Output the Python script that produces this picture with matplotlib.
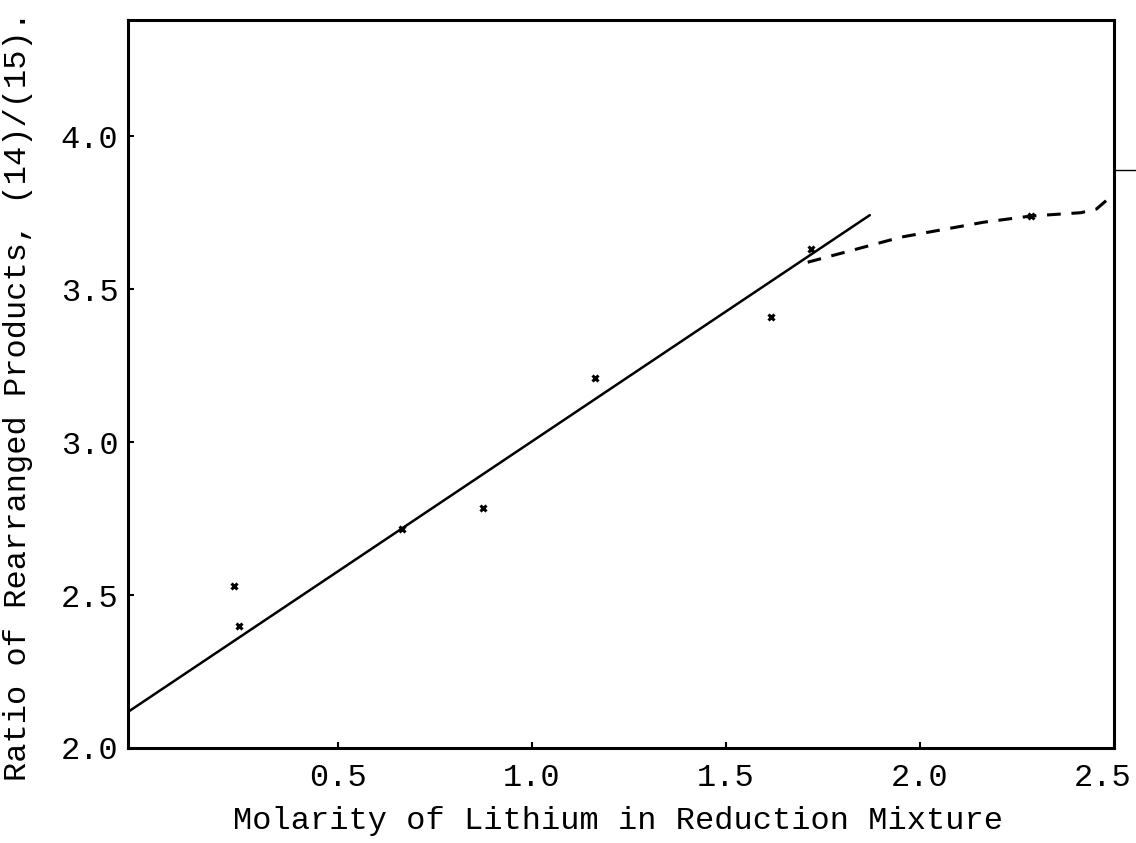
import matplotlib
matplotlib.use('Agg')
import matplotlib.pyplot as plt
import matplotlib.transforms as mtransforms

# Puntos experimentales (molaridad, razón)
molarity = [0.232, 0.245, 0.667, 0.874, 1.162, 1.616, 1.719, 2.286]
ratio = [2.529, 2.400, 2.716, 2.784, 3.209, 3.408, 3.630, 3.739]

# Recta trazada a mano
fit_x = [-0.04, 1.871]
fit_y = [2.118, 3.742]

# Curva discontinua a concentración alta
dash_x = [1.711, 1.951, 2.165, 2.286, 2.415, 2.455, 2.485]
dash_y = [3.588, 3.670, 3.719, 3.739, 3.750, 3.762, 3.795]

x_ticks = [0.5, 1.0, 1.5, 2.0, 2.5]
y_ticks = [2.0, 2.5, 3.0, 3.5, 4.0]

plt.rcParams['font.family'] = ['Liberation Mono', 'DejaVu Sans Mono']

fig = plt.figure(figsize=(11.36, 8.43), dpi=100)
ax = fig.add_axes([0.1127, 0.1127, 0.8679, 0.8636])

ax.plot(fit_x, fit_y, color='black', lw=1.8, solid_capstyle='round')
ax.plot(dash_x, dash_y, color='black', lw=2.2, linestyle=(0, (4.5, 3.5)))
ax.plot(molarity, ratio, linestyle='none', marker='x', color='black',
        markersize=5, markeredgewidth=2.2)

# pequeña marca fuera del eje derecho
ax.plot([2.5, 2.557], [3.89, 3.89], color='black', lw=1, clip_on=False)

ax.set_xlim(-0.04, 2.5)
ax.set_ylim(2.0, 4.38)
ax.set_xticks(x_ticks)
ax.set_yticks(y_ticks)
ax.set_xticklabels(['%.1f' % v for v in x_ticks])
ax.set_yticklabels(['%.1f' % v for v in y_ticks])

ax.tick_params(direction='in', length=4, width=1.5, labelsize=23,
               colors='black')
ax.tick_params(axis='x', pad=11)
ax.tick_params(axis='y', pad=7)

for s in ax.spines.values():
    s.set_linewidth(2.2)

# el último rótulo "2.5" queda algo desplazado a la izquierda
last = ax.get_xticklabels()[-1]
last.set_transform(last.get_transform() +
                   mtransforms.ScaledTranslation(-0.11, 0, fig.dpi_scale_trans))

ax.set_xlabel('Molarity of Lithium in Reduction Mixture', fontsize=23)
ax.set_ylabel('Ratio of Rearranged Products, (14)/(15).', fontsize=23)
ax.xaxis.set_label_coords(0.497, -0.08)
ax.yaxis.set_label_coords(-0.096, 0.484)

fig.savefig('out.png', dpi=100, facecolor='white')
